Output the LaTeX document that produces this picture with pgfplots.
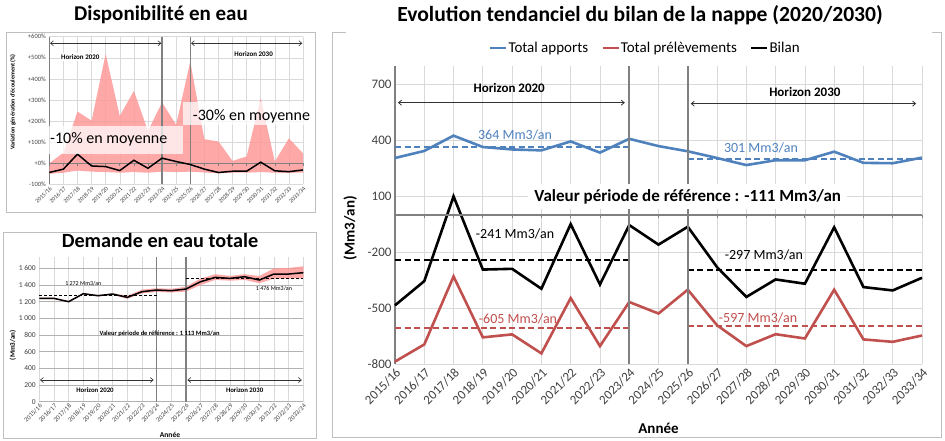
\documentclass[border=0pt]{standalone}
\usepackage{fontspec}
\setmainfont{Carlito}
\usepackage{pgfplots}
\pgfplotsset{compat=1.18}
\usetikzlibrary{arrows.meta}
\definecolor{cblue}{HTML}{4F81BD}
\definecolor{cred}{HTML}{C0504D}
\definecolor{carea}{HTML}{FF9999}
\definecolor{cgrid}{HTML}{D9D9D9}
\definecolor{caxis}{HTML}{808080}
\definecolor{ctick}{HTML}{404040}
\definecolor{cbox}{HTML}{BFBFBF}
\newcommand{\fs}[1]{\fontsize{#1}{#1}\selectfont}
\tikzset{harrow/.style={{Straight Barb[length=3pt,width=5pt]}-{Straight Barb[length=3pt,width=5pt]}, line width=0.6pt, black!80}}

\begin{document}
\begin{tikzpicture}
\useasboundingbox (0pt,0pt) rectangle (945pt,440pt);

% panel frames
\draw[cbox, line width=0.8pt] (6pt,228pt) rectangle (315pt,408pt);
\draw[cbox, line width=0.8pt] (3pt,2pt) rectangle (316pt,208pt);
\draw[cbox, line width=0.8pt] (346pt,408pt) -- (332pt,408pt) -- (332pt,3pt) -- (941pt,3pt) -- (941pt,408pt) -- (932pt,408pt);

% titles
\node[font=\bfseries\fs{21}] at (161pt,425pt) {Disponibilité en eau};
\node[font=\bfseries\fs{20.2}] at (160pt,200pt) {Demande en eau totale};
\node[font=\bfseries\fs{21.6}] at (640pt,425pt) {Evolution tendanciel du bilan de la nappe (2020/2030)};

% ---------------- top-left: Disponibilite en eau ----------------
\begin{axis}[
  at={(49.3pt,255.7pt)}, anchor=south west, scale only axis,
  width=253.7pt, height=147.6pt,
  xmin=0, xmax=18, ymin=-100, ymax=600,
  axis lines*=left,
  x axis line style={draw=none},
  y axis line style={caxis, line width=1pt},
  major tick length=0pt,
  xtick={0,...,18},
  xticklabels={2015/16,2016/17,2017/18,2018/19,2019/20,2020/21,2021/22,2022/23,2023/24,2024/25,2025/26,2026/27,2027/28,2028/29,2029/30,2030/31,2031/32,2032/33,2033/34},
  ytick={-100,0,100,200,300,400,500,600},
  yticklabels={-100\%,+0\%,+100\%,+200\%,+300\%,+400\%,+500\%,+600\%},
  x tick label style={rotate=45, anchor=north east, font=\fs{6}, text=ctick, inner sep=1pt},
  y tick label style={font=\fs{6.5}, text=ctick},
  grid=major, grid style={cgrid, line width=0.5pt},
  ylabel={Variation génération d'écoulement (\%)},
  ylabel style={font=\bfseries\fs{6}, at={(axis description cs:-0.143,0.557)}, anchor=center},
  clip=false,
  /pgf/number format/assume math mode=true,
]
% band: upper bound left to right, then lower bound right to left
\addplot[fill=carea, fill opacity=0.85, draw=none] coordinates {(0,0) (1,50) (2,245) (3,202) (4,518) (5,224) (6,343) (7,153) (8,288) (9,182) (10,482) (11,114) (12,103) (13,11) (14,32) (15,308) (16,8) (17,118) (18,47)
 (18,-44) (17,-46) (16,-45) (15,-42) (14,-45) (13,-45) (12,-48) (11,-44) (10,-40) (9,-42) (8,-40) (7,-45) (6,-42) (5,-45) (4,-42) (3,-40) (2,-35) (1,-45) (0,-50)} -- cycle;
\draw[caxis, line width=1.4pt] (axis cs:0,0) -- (axis cs:18,0);
\pgfplotsinvokeforeach{0,...,18}{\draw[caxis, line width=0.6pt] (axis cs:#1,0) -- (axis cs:#1,-12);}
\draw[caxis, line width=1.2pt] (axis cs:8,-100) -- (axis cs:8,600);
\draw[caxis, line width=1.2pt] (axis cs:10,-100) -- (axis cs:10,600);
\addplot[black, line width=1.5pt] coordinates {(0,-44) (1,-28) (2,43) (3,-13) (4,-16) (5,-35) (6,14) (7,-24) (8,24) (9,8) (10,-6) (11,-28) (12,-44) (13,-38) (14,-38) (15,5) (16,-36) (17,-40) (18,-32)};
\draw[harrow] (axis cs:0.05,569) -- (axis cs:7.95,569);
\draw[harrow] (axis cs:10.05,569) -- (axis cs:17.95,569);
\node[font=\bfseries\fs{7}, fill=white, inner sep=1.5pt] at (axis cs:2.2,505) {Horizon 2020};
\node[font=\bfseries\fs{7}, fill=white, inner sep=1.5pt] at (axis cs:14.5,516) {Horizon 2030};
\end{axis}
% overlay boxes
\fill[white, fill opacity=0.72] (48pt,286pt) rectangle (183pt,314pt);
\fill[white, fill opacity=0.72] (183pt,315pt) rectangle (313pt,338pt);
\node[font=\fs{16}, anchor=west, inner sep=0pt] at (50pt,300.7pt) {-10\% en moyenne};
\node[font=\fs{16}, anchor=west, inner sep=0pt] at (192.7pt,323.3pt) {-30\% en moyenne};

% ---------------- bottom-left: Demande en eau totale ----------------
\begin{axis}[
  at={(39.3pt,38.3pt)}, anchor=south west, scale only axis,
  width=264pt, height=145pt,
  xmin=0, xmax=18, ymin=0, ymax=1740,
  axis lines*=left,
  x axis line style={draw=none},
  y axis line style={draw=none},
  major tick length=0pt,
  xtick={0,...,18},
  xticklabels={2015/16,2016/17,2017/18,2018/19,2019/20,2020/21,2021/22,2022/23,2023/24,2024/25,2025/26,2026/27,2027/28,2028/29,2029/30,2030/31,2031/32,2032/33,2033/34},
  ytick={0,200,400,600,800,1000,1200,1400,1600},
  yticklabels={0,200,400,600,800,1~000,1~200,1~400,1~600},
  x tick label style={rotate=45, anchor=north east, font=\fs{6.5}, text=ctick, inner sep=1pt},
  y tick label style={font=\fs{7.5}, text=ctick},
  xmajorgrids, ymajorgrids,
  x grid style={cgrid, line width=0.5pt},
  y grid style={black!30, line width=0.6pt},
  xlabel={Année},
  xlabel style={font=\bfseries\fs{7.5}, at={(axis description cs:0.495,-0.23)}, anchor=center},
  ylabel={(Mm3/an)},
  ylabel style={font=\bfseries\fs{7}, at={(axis description cs:-0.1,0.39)}, anchor=center},
  clip=false,
  /pgf/number format/assume math mode=true,
]
\addplot[fill=carea, fill opacity=0.85, draw=none] coordinates {(0,1248) (1,1248) (2,1208) (3,1304) (4,1280) (5,1300) (6,1272) (7,1345) (8,1362) (9,1355) (10,1380) (11,1478) (12,1530) (13,1510) (14,1530) (15,1508) (16,1600) (17,1605) (18,1625)
 (18,1482) (17,1478) (16,1478) (15,1422) (14,1462) (13,1452) (12,1462) (11,1400) (10,1322) (9,1310) (8,1318) (7,1300) (6,1235) (5,1284) (4,1264) (3,1288) (2,1192) (1,1232) (0,1232)} -- cycle;
\draw[caxis, line width=1.2pt] (axis cs:8,0) -- (axis cs:8,1740);
\draw[caxis, line width=1.2pt] (axis cs:10,0) -- (axis cs:10,1740);
\addplot[black, line width=1pt, dash pattern=on 3pt off 2pt] coordinates {(0,1272) (8,1272)};
\addplot[black, line width=1pt, dash pattern=on 3pt off 2pt] coordinates {(10,1476) (18,1476)};
\addplot[black, line width=1.5pt] coordinates {(0,1240) (1,1240) (2,1200) (3,1296) (4,1272) (5,1292) (6,1252) (7,1320) (8,1340) (9,1332) (10,1352) (11,1440) (12,1492) (13,1480) (14,1500) (15,1460) (16,1532) (17,1532) (18,1548)};
\node[font=\fs{6}] at (axis cs:3,1420) {1 272 Mm3/an};
\node[font=\fs{6}] at (axis cs:16,1360) {1 476 Mm3/an};
\node[font=\bfseries\fs{6.5}] at (axis cs:8.2,820) {Valeur période de référence : 1 113 Mm3/an};
\draw[harrow] (axis cs:0.05,260) -- (axis cs:7.8,260);
\draw[harrow] (axis cs:10.1,260) -- (axis cs:17.9,260);
\node[font=\bfseries\fs{6.8}, fill=white, inner sep=1pt] at (axis cs:3.8,140) {Horizon 2020};
\node[font=\bfseries\fs{6.8}, fill=white, inner sep=1pt] at (axis cs:14,140) {Horizon 2030};
\end{axis}

% ---------------- right: bilan de la nappe ----------------
\begin{axis}[
  at={(395pt,76pt)}, anchor=south west, scale only axis,
  width=527pt, height=298pt,
  xmin=0, xmax=18, ymin=-800, ymax=800,
  axis lines*=left,
  x axis line style={draw=none},
  y axis line style={caxis, line width=1.5pt},
  major tick length=0pt,
  xtick={0,...,18},
  xticklabels={2015/16,2016/17,2017/18,2018/19,2019/20,2020/21,2021/22,2022/23,2023/24,2024/25,2025/26,2026/27,2027/28,2028/29,2029/30,2030/31,2031/32,2032/33,2033/34},
  ytick={-800,-500,-200,100,400,700},
  yticklabels={-800,-500,-200,100,400,700},
  x tick label style={rotate=45, anchor=north east, font=\fs{13}, text=ctick, inner sep=2pt},
  y tick label style={font=\fs{13}, text=ctick},
  grid=major, grid style={cgrid, line width=0.7pt},
  xlabel={Année},
  xlabel style={font=\bfseries\fs{15}, at={(axis description cs:0.5,-0.215)}, anchor=center},
  ylabel={(Mm3/an)},
  ylabel style={font=\bfseries\fs{15}, at={(axis description cs:-0.085,0.456)}, anchor=center},
  clip=false,
  /pgf/number format/assume math mode=true,
  legend style={at={(axis description cs:0.474,1.06)}, anchor=center, draw=none, fill=white,
    font=\fs{15}, legend columns=3, inner sep=1pt,
    /tikz/every even column/.append style={column sep=12pt},
    nodes={inner sep=1pt}},
  legend image code/.code={\draw[#1] (0pt,0pt) -- (16pt,0pt);},
]
\addplot[cblue, line width=2.6pt] coordinates {(0,306) (1,344) (2,426) (3,365) (4,352) (5,347) (6,395) (7,335) (8,409) (9,370) (10,342) (11,306) (12,268) (13,294) (14,294) (15,340) (16,280) (17,278) (18,308)};
\addlegendentry{Total apports}
\addplot[cred, line width=2.6pt] coordinates {(0,-787) (1,-695) (2,-330) (3,-657) (4,-641) (5,-743) (6,-446) (7,-704) (8,-467) (9,-529) (10,-401) (11,-592) (12,-704) (13,-640) (14,-663) (15,-401) (16,-668) (17,-681) (18,-647)};
\addlegendentry{Total prélèvements}
\addplot[black, line width=2.6pt] coordinates {(0,-485) (1,-355) (2,100) (3,-293) (4,-289) (5,-396) (6,-49) (7,-373) (8,-54) (9,-159) (10,-63) (11,-280) (12,-440) (13,-346) (14,-369) (15,-66) (16,-387) (17,-405) (18,-337)};
\addlegendentry{Bilan}
\addplot[cblue, line width=1.8pt, dash pattern=on 6pt off 3.5pt, forget plot] coordinates {(0,364) (8,364)};
\addplot[cblue, line width=1.8pt, dash pattern=on 6pt off 3.5pt, forget plot] coordinates {(10,301) (18,301)};
\addplot[black, line width=1.8pt, dash pattern=on 6pt off 3.5pt, forget plot] coordinates {(0,-241) (8,-241)};
\addplot[black, line width=1.8pt, dash pattern=on 6pt off 3.5pt, forget plot] coordinates {(10,-297) (18,-297)};
\addplot[cred, line width=1.8pt, dash pattern=on 6pt off 3.5pt, forget plot] coordinates {(0,-605) (8,-605)};
\addplot[cred, line width=1.8pt, dash pattern=on 6pt off 3.5pt, forget plot] coordinates {(10,-597) (18,-597)};
\draw[caxis, line width=1.6pt] (axis cs:0,0) -- (axis cs:18,0);
\pgfplotsinvokeforeach{0,...,18}{\draw[caxis, line width=0.8pt] (axis cs:#1,0) -- (axis cs:#1,-16);}
\draw[caxis, line width=1.8pt] (axis cs:8,-800) -- (axis cs:8,800);
\draw[caxis, line width=1.8pt] (axis cs:10,-800) -- (axis cs:10,800);
\node[font=\bfseries\fs{17}, fill=white, inner xsep=6pt, inner ysep=5pt] at (axis cs:10,98) {Valeur période de référence : -111 Mm3/an};
\draw[harrow, line width=0.8pt] (axis cs:0.1,603) -- (axis cs:7.85,603);
\draw[harrow, line width=0.8pt] (axis cs:10.1,598) -- (axis cs:17.8,598);
\node[font=\bfseries\fs{13}] at (axis cs:3.9,682) {Horizon 2020};
\node[font=\bfseries\fs{13}] at (axis cs:14,661) {Horizon 2030};
\node[font=\fs{14}, text=cblue] at (axis cs:4.1,432) {364 Mm3/an};
\node[font=\fs{14}, text=cblue] at (axis cs:12.5,360) {301 Mm3/an};
\node[font=\fs{14}] at (axis cs:4.1,-102) {-241 Mm3/an};
\node[font=\fs{14}] at (axis cs:12.6,-212) {-297 Mm3/an};
\node[font=\fs{14}, text=cred] at (axis cs:4.2,-556) {-605 Mm3/an};
\node[font=\fs{14}, text=cred] at (axis cs:12.4,-551) {-597 Mm3/an};
\end{axis}
\end{tikzpicture}
\end{document}
